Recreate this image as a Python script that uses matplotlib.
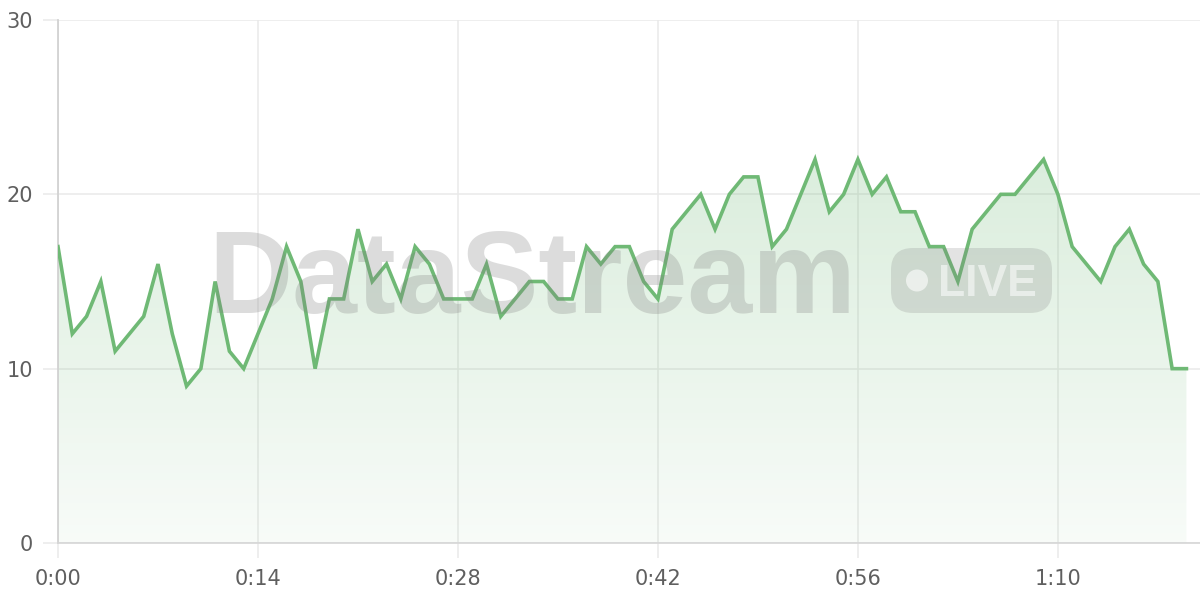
import matplotlib
matplotlib.use("Agg")
import matplotlib.pyplot as plt
import numpy as np
from matplotlib.patches import FancyBboxPatch, Circle, Polygon
from matplotlib.transforms import Affine2D

# ---- data ----
seconds = list(range(80))
values = [17, 12, 13, 15, 11, 12, 13, 16, 12, 9,
          10, 15, 11, 10, 12, 14, 17, 15, 10, 14,
          14, 18, 15, 16, 14, 17, 16, 14, 14, 14,
          16, 13, 14, 15, 15, 14, 14, 17, 16, 17,
          17, 15, 14, 18, 19, 20, 18, 20, 21, 21,
          17, 18, 20, 22, 19, 20, 22, 20, 21, 19,
          19, 17, 17, 15, 18, 19, 20, 20, 21, 22,
          20, 17, 16, 15, 17, 18, 16, 15, 10, 10]
x_ticks = [0, 14, 28, 42, 56, 70]
x_tick_labels = ["0:00", "0:14", "0:28", "0:42", "0:56", "1:10"]
y_ticks = [0, 10, 20, 30]
watermark = "DataStream"
badge_text = "LIVE"

line_color = "#6fb975"
green_rgb = (0.43, 0.725, 0.46)
tick_color = "#5f5f5f"
grid_color = "#e9e9e9"

plt.rcParams['font.family'] = ['DejaVu Sans']

fig = plt.figure(figsize=(12, 6), dpi=100)
ax = fig.add_axes([58/1200, 57/600, 1 - 58/1200, (543-20)/600])

# gradient fill
x = np.array(seconds, dtype=float)
y = np.array(values, dtype=float)
ymax = y.max()
n = 256
alphas = np.linspace(0.05, 0.25, n)[:, None]
grad = np.zeros((n, 1, 4))
grad[..., 0] = green_rgb[0]
grad[..., 1] = green_rgb[1]
grad[..., 2] = green_rgb[2]
grad[..., 3] = alphas
im = ax.imshow(grad, extent=[x[0], x[-1], 0, ymax], origin='lower',
               aspect='auto', zorder=1, interpolation='bilinear')
verts = np.vstack([np.column_stack([x, y]), [[x[-1], 0], [x[0], 0]]])
clip = Polygon(verts, closed=True, facecolor='none', edgecolor='none',
               transform=ax.transData)
ax.add_patch(clip)
im.set_clip_path(clip)
ax.set_xlim(0, 79.95)
ax.set_ylim(0, 30)

ax.plot(x, y, color=line_color, lw=2.6, zorder=5, solid_joinstyle='miter')

# grid & axes
ax.set_xticks(x_ticks)
ax.set_xticklabels(x_tick_labels)
ax.set_yticks(y_ticks)
ax.grid(True, color=grid_color, lw=1.1, zorder=0)
ax.set_axisbelow(True)
for s in ['top', 'right']:
    ax.spines[s].set_visible(False)
ax.spines['left'].set_color('#d2d2d2')
ax.spines['left'].set_linewidth(1.3)
ax.spines['bottom'].set_color('#d6d6d6')
ax.spines['bottom'].set_linewidth(1.2)
ax.tick_params(axis='both', length=11, width=1.1, color=grid_color,
               labelcolor=tick_color, labelsize=15)
ax.tick_params(axis='y', pad=7)
ax.tick_params(axis='x', pad=8)

# watermark in pixel coordinates (origin top-left)
pix = Affine2D().scale(1/1200, -1/600).translate(0, 1) + fig.transFigure
wm_gray = (0.5, 0.5, 0.5)
fig.text(208, 313, watermark, transform=pix, fontsize=84, fontweight='bold',
         family='Liberation Sans', color=wm_gray, alpha=0.27,
         ha='left', va='baseline', zorder=3)
badge = FancyBboxPatch((891, 248), 161, 65,
                       boxstyle="round,pad=0,rounding_size=22",
                       transform=pix, facecolor=wm_gray, edgecolor='none',
                       alpha=0.22, zorder=3)
fig.add_artist(badge)
dot = Circle((917, 280.5), 11, transform=pix, facecolor='white',
             edgecolor='none', alpha=0.6, zorder=4)
fig.add_artist(dot)
fig.text(938, 296, badge_text, transform=pix, fontsize=32, fontweight='bold',
         family='Liberation Sans', color='white', alpha=0.55,
         ha='left', va='baseline', zorder=4)

fig.savefig("out.png", dpi=100)
